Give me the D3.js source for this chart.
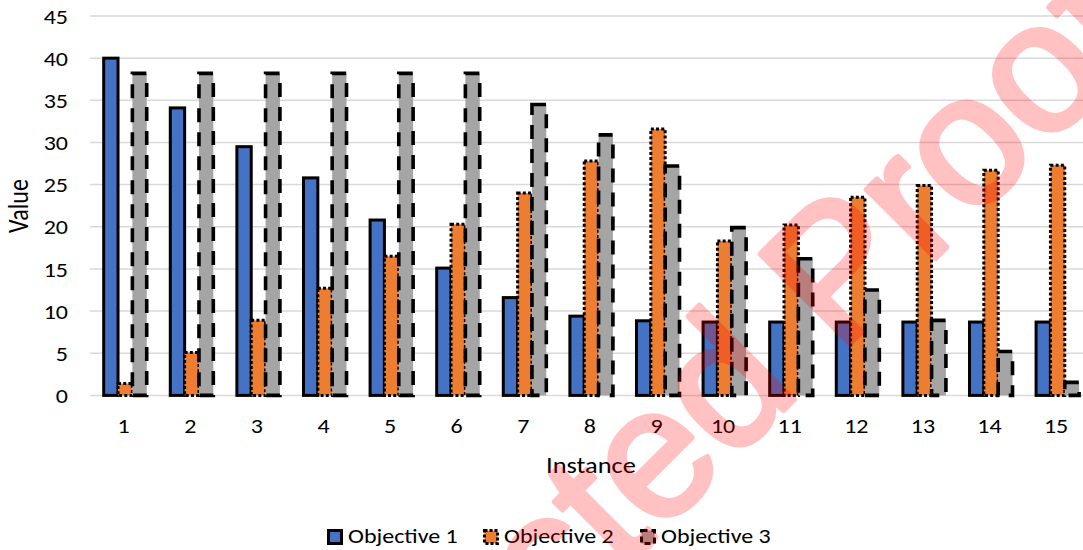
<!DOCTYPE html>
<html><head><meta charset="utf-8">
<script src="https://cdn.jsdelivr.net/npm/d3@7"></script>
<style>html,body{margin:0;padding:0;background:#fff;overflow:hidden}</style>
</head><body>
<svg id="c" width="1083" height="550"></svg>
<script>
const categories = ["1","2","3","4","5","6","7","8","9","10","11","12","13","14","15"];
const seriesNames = ["Objective 1","Objective 2","Objective 3"];
const objective1 = [40.0, 34.1, 29.5, 25.8, 20.8, 15.1, 11.6, 9.4, 8.85, 8.7, 8.7, 8.7, 8.7, 8.7, 8.7];
const objective2 = [1.4, 5.1, 8.9, 12.7, 16.5, 20.3, 24.0, 27.8, 31.6, 18.3, 20.2, 23.5, 24.9, 26.7, 27.3];
const objective3 = [38.2, 38.2, 38.2, 38.2, 38.2, 38.2, 34.5, 30.9, 27.2, 19.9, 16.2, 12.5, 8.9, 5.2, 1.55];
const yTicks = [0,5,10,15,20,25,30,35,40,45];
const watermark = "Uncorrected Proof";

const svg = d3.select("#c");
const FONT = "Carlito, Calibri, Lato, sans-serif";
const SX = "scale(1.2,1)";
const colors = ["#4472C4","#ED7D31","#A5A5A5"];
const dashes = [null, "3,2.2", "14,10"];

const y = d3.scaleLinear().domain([0,45]).range([395.4,16]);
const x = d3.scaleBand().domain(categories).range([90.4,1089.4]).paddingInner(0.354).paddingOuter(0.177);
const xs = d3.scaleBand().domain(seriesNames).range([0,x.bandwidth()]);

// gridlines
svg.append("g").selectAll("line").data(yTicks).join("line")
  .attr("x1",90).attr("x2",1090)
  .attr("y1",d=>y(d)).attr("y2",d=>y(d))
  .attr("stroke","#D9D9D9").attr("stroke-width",1.5);

// y tick labels
const yAxis = d3.axisLeft(y).tickValues(yTicks).tickSize(0).tickPadding(0);
const ga = svg.append("g").attr("transform","translate(68,0)").call(yAxis);
ga.select(".domain").remove();
ga.selectAll("text").attr("font-family",FONT).attr("font-size",20).attr("fill","#000")
  .attr("x",0).attr("dy","0.36em").attr("text-anchor","end").attr("transform",SX);

// x tick labels
const xAxis = d3.axisBottom(x).tickSize(0).tickPadding(0);
const gx = svg.append("g").attr("transform","translate(0,419)").call(xAxis);
gx.select(".domain").remove();
gx.selectAll("text").attr("font-family",FONT).attr("font-size",20).attr("fill","#000")
  .attr("y",0).attr("dy","0.71em").attr("transform",SX);

// bars
const data = [objective1, objective2, objective3];
const groups = svg.append("g");
categories.forEach((c,i)=>{
  seriesNames.forEach((s,k)=>{
    const v = data[k][i];
    const r = groups.append("rect")
      .attr("x", x(c)+xs(s)+1.5).attr("width", xs.bandwidth())
      .attr("y", y(v)).attr("height", y(0)-y(v))
      .attr("fill", colors[k]).attr("stroke","#000")
      .attr("stroke-width", k===2?3.6:3);
    if (dashes[k]) r.attr("stroke-dasharray", dashes[k]);
  });
});

// axis titles
svg.append("text").attr("transform","translate(591,473) "+SX).attr("text-anchor","middle")
  .attr("font-family",FONT).attr("font-size",22).text("Instance");
svg.append("text").attr("transform","translate(28,206) "+SX+" rotate(-90)").attr("text-anchor","middle")
  .attr("font-family",FONT).attr("font-size",24).text("Value");

// legend
const legX = [327, 483, 640];
seriesNames.forEach((s,k)=>{
  const g = svg.append("g").attr("transform",`translate(${legX[k]},529)`);
  const r = g.append("rect").attr("x",1.5).attr("y",1.5).attr("width",13).attr("height",13)
    .attr("fill",colors[k]).attr("stroke","#000").attr("stroke-width",3);
  if (dashes[k]) r.attr("stroke-dasharray", k===1?"3,2":"6,4");
  g.append("text").attr("transform","translate(21,14) "+SX).attr("font-family",FONT).attr("font-size",20).text(s);
});

// watermark
svg.append("g").attr("opacity",0.24)
  .append("text").attr("transform","translate(1152,42) rotate(-45)")
  .attr("text-anchor","end").attr("font-family","'Liberation Sans', Arial, sans-serif")
  .attr("font-size",185).attr("fill","#FF0000").attr("stroke","#FF0000").attr("stroke-width",5)
  .attr("stroke-linejoin","round").text(watermark);
</script>
</body></html>
